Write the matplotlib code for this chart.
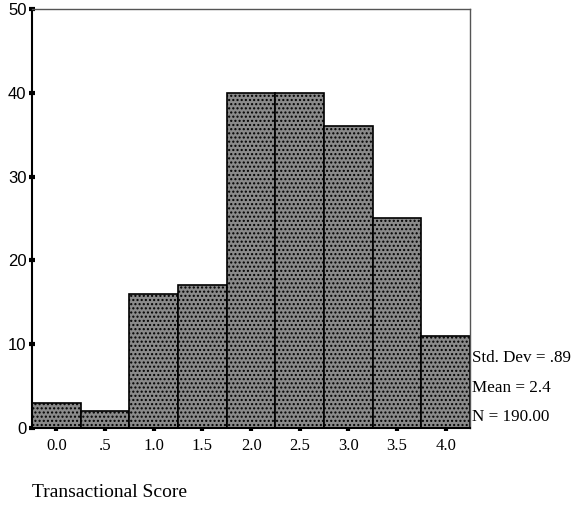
import matplotlib
matplotlib.use("Agg")
import matplotlib.pyplot as plt

# histogram of transactional scores (bin centres and counts)
bin_centres = [0.0, 0.5, 1.0, 1.5, 2.0, 2.5, 3.0, 3.5, 4.0]
counts = [3, 2, 16, 17, 40, 40, 36, 25, 11]
x_tick_labels = ["0.0", ".5", "1.0", "1.5", "2.0", "2.5", "3.0", "3.5", "4.0"]
y_ticks = [0, 10, 20, 30, 40, 50]
stats_lines = ["Std. Dev = .89", "Mean = 2.4", "N = 190.00"]

plt.rcParams["hatch.color"] = "#5a5a5a"

fig = plt.figure(figsize=(5.74, 5.08), dpi=100)
ax = fig.add_axes([0.056, 0.1575, 0.763, 0.825])

ax.bar(bin_centres, counts, width=0.5, color="#8a8a8a", edgecolor="black",
       linewidth=1.2, hatch="....", zorder=2)

ax.set_xlim(-0.25, 4.25)
ax.set_ylim(0, 50)
ax.set_xticks(bin_centres)
ax.set_xticklabels(x_tick_labels, family="Liberation Serif", fontsize=12)
ax.set_yticks(y_ticks)
ax.set_yticklabels([str(v) for v in y_ticks], family="Liberation Sans",
                   fontsize=12)
ax.tick_params(axis="both", direction="inout", length=4, width=3)
ax.tick_params(axis="x", pad=5)
ax.tick_params(axis="y", pad=2)

for side in ("top", "right"):
    ax.spines[side].set_color("#555555")
    ax.spines[side].set_linewidth(1.0)
for side in ("left", "bottom"):
    ax.spines[side].set_color("black")
    ax.spines[side].set_linewidth(1.5)

# summary statistics to the right of the plot
for i, line in enumerate(stats_lines):
    fig.text(0.822, 0.295 - i * 0.058, line, family="Liberation Serif",
             fontsize=12.3, ha="left", va="center")

fig.text(0.056, 0.03, "Transactional Score", family="Liberation Serif",
         fontsize=14, ha="left", va="center")

fig.savefig("out.png", dpi=100)
